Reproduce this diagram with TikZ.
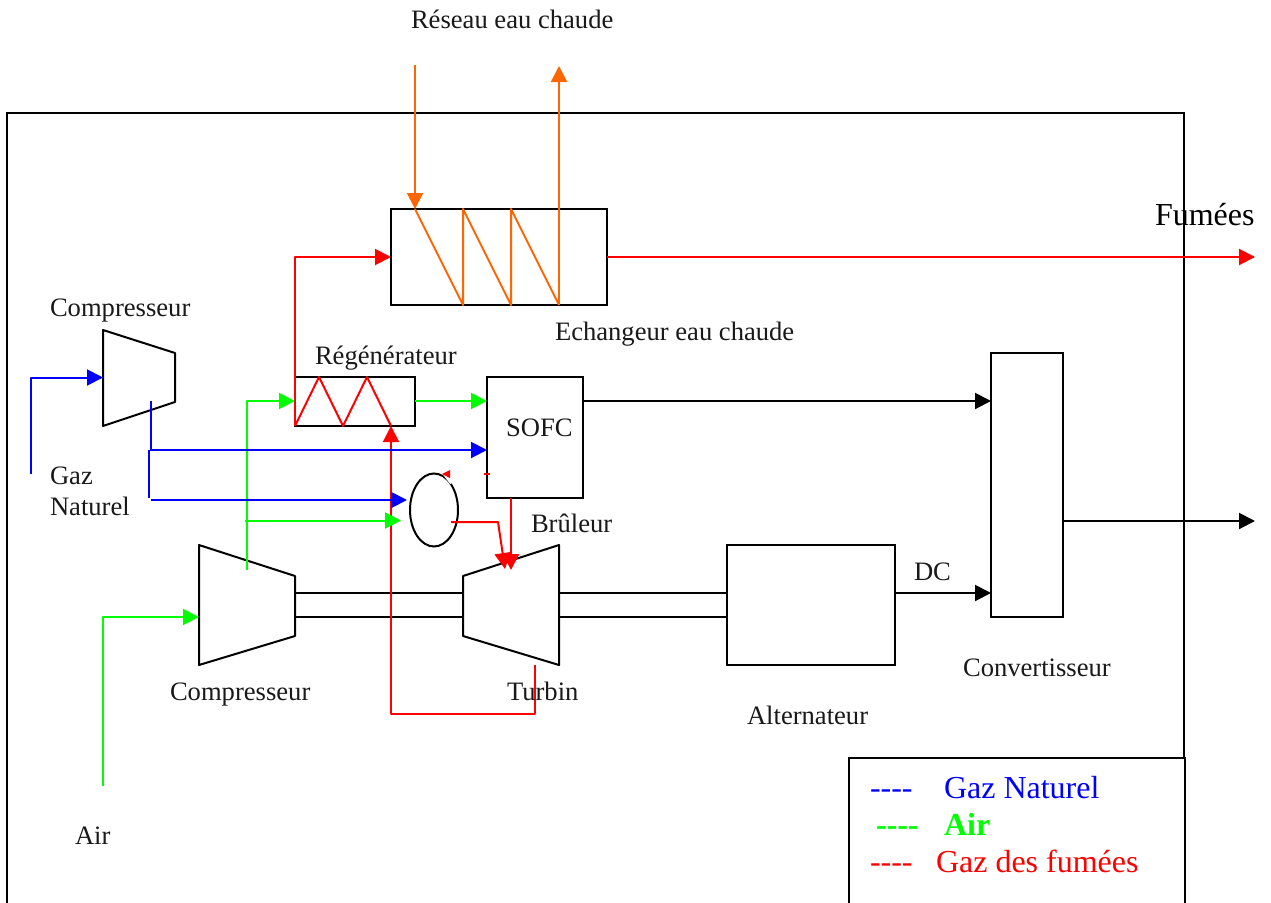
\documentclass[tikz,border=0pt]{standalone}
\usepackage{fontspec}
\setmainfont{Liberation Serif}
\usetikzlibrary{arrows.meta,shapes.geometric}
\definecolor{hotw}{RGB}{255,102,0}
\definecolor{gasb}{RGB}{0,0,255}
\definecolor{airg}{RGB}{0,255,0}
\definecolor{fumr}{RGB}{255,0,0}
\newcommand{\szA}{\fontsize{26.6}{30}\selectfont}
\newcommand{\szB}{\fontsize{32}{36}\selectfont}
\tikzset{
  x=1pt,y=-1pt,
  ln/.style={line width=2pt,line join=round},
  box/.style={draw=black,line width=2pt,rectangle,inner sep=0pt,outer sep=0pt},
  lab/.style={anchor=base west,inner sep=0pt,outer sep=0pt,font=\szA,text=black!90},
  leg/.style={anchor=base west,inner sep=0pt,outer sep=0pt,font=\szB},
  arr/.style={-{Triangle[length=16pt,width=16pt]}},
  blk/.style={ln,draw=black},
  gas/.style={ln,draw=gasb},
  air/.style={ln,draw=airg},
  fum/.style={ln,draw=fumr},
  wat/.style={ln,draw=hotw},
}
\begin{document}
\begin{tikzpicture}
\useasboundingbox (0,0) rectangle (1271,902);
\clip (0,0) rectangle (1271,902);
\fill[white] (0,0) rectangle (1271,902);
% frame
\node[box,minimum width=1177pt,minimum height=810pt] (frame) at (595.5,518) {};
% boxes
\node[box,minimum width=216pt,minimum height=96pt] (ech) at (499,257) {};
\node[box,minimum width=120pt,minimum height=49pt] (reg) at (355,401.5) {};
\node[box,minimum width=96pt,minimum height=121pt] (sofc) at (535,437.5) {};
\node[box,minimum width=72pt,minimum height=264pt] (conv) at (1027,485) {};
\node[box,minimum width=168pt,minimum height=120pt] (alt) at (811,605) {};
\node[draw=black,line width=2pt,ellipse,inner sep=0pt,outer sep=0pt,minimum width=48pt,minimum height=73pt] (brul) at (434,510) {};
\draw[white,line width=4pt] (445,474) -- (452,483);
% machines
\draw[blk] (103,330) coordinate (ca) -- (175,353) -- (175,402) -- (103,426) -- cycle;
\draw[blk] (199,545) -- (295,576) coordinate (cbr) -- (295,636) coordinate (cbs) -- (199,665) -- cycle;
\draw[blk] (463,576) coordinate (ttl) -- (559,545) -- (559,665) -- (463,636) coordinate (tbl) -- cycle;
% free ends
\coordinate (hwin) at (415,65);
\coordinate (hwout) at (559,66);
\coordinate (fumout) at (1255,257);
\coordinate (elout) at (1255,521);
\coordinate (gazin) at (31,474);
\coordinate (airin) at (103,786);
\coordinate (c1in) at (103,377.5);
\coordinate (c2in) at (199,617);
% shafts
\draw[blk] (295,593) -- (463,593);
\draw[blk] (295,617) -- (463,617);
\draw[blk] (559,593) -- (alt.west |- 0,593);
\draw[blk] (559,617) -- (alt.west |- 0,617);
% electrical
\draw[blk,arr] (sofc.east |- 0,401) -- (conv.west |- 0,401);
\draw[blk,arr] (alt.east |- 0,593) -- (conv.west |- 0,593);
\draw[blk,arr] (conv.east |- elout) -- (elout);
% hot water
\draw[wat,arr] (hwin) -- (415,209);
\draw[wat] (415,209) -- (463,305) -- (463,209) -- (511,305) -- (511,209) -- (559,305);
\draw[wat,arr] (559,305) -- (hwout);
% flue gas
\draw[fum,arr] (295,426) -- (295,257) -- (ech.west);
\draw[fum,arr] (ech.east) -- (fumout);
\draw[fum] (295,426) -- (319,377) -- (343,426) -- (367,377) -- (391,426);
\draw[fum,arr] (535,665) -- (535,714) -- (391,714) -- (391,426);
\draw[fum,arr] (511,498) -- (511,570);
\draw[fum,arr] (451,522) -- (498,522) -- (505,569);
\fill[fumr] (442,474) -- (450,470) -- (450,478) -- cycle;
\draw[fumr,line width=2pt] (484,474) -- (490,474);
% air
\draw[air,arr] (415,401) -- (sofc.west |- 0,401);
\draw[air,arr] (247,570) -- (247,401) -- (295,401);
\draw[air,arr] (245,520.5) -- (401,520.5);
\draw[air,arr] (airin) -- (103,617) -- (c2in);
% gas
\draw[gas,arr] (gazin) -- (31,377.5) -- (c1in);
\draw[gas] (151,401) -- (151,450);
\draw[gas,arr] (150,450) -- (sofc.west |- 0,450);
\draw[gas] (149,450) -- (149,498);
\draw[gas,arr] (151,500) -- (407,500);
% labels
\node[lab] (t1) at (411,28) {Réseau eau chaude};
\node[leg] (t2) at (1155,225) {Fumées};
\node[lab] (t3) at (50,316) {Compresseur};
\node[lab] (t4) at (555,340) {Echangeur eau chaude};
\node[lab] (t5) at (315,364) {Régénérateur};
\node[lab] (t6) at (506,436) {SOFC};
\node[lab] (t7) at (50,484) {Gaz};
\node[lab] (t8) at (50,515) {Naturel};
\node[lab] (t9) at (531,532) {Brûleur};
\node[lab] (t10) at (914,580) {DC};
\node[lab] (t11) at (170,700) {Compresseur};
\node[lab] (t12) at (507,700) {Turbin};
\node[lab] (t13) at (963,676) {Convertisseur};
\node[lab] (t14) at (747,724) {Alternateur};
\node[lab] (t15) at (75,844) {Air};
% legend
\node[box,fill=white,minimum width=336pt,minimum height=200pt] (legend) at (1017,858) {};
\node[leg,text=gasb] (l1) at (870,798) {-{}-{}-{}-};
\node[leg,text=gasb] (l2) at (944,798) {Gaz Naturel};
\node[leg,text=airg,font=\szB\bfseries] (l3) at (876,835) {-{}-{}-{}-};
\node[leg,text=airg,font=\szB\bfseries] (l4) at (944,835) {Air};
\node[leg,text=fumr] (l5) at (870,872) {-{}-{}-{}-};
\node[leg,text=fumr] (l6) at (936,872) {Gaz des fumées};
\end{tikzpicture}
\end{document}
